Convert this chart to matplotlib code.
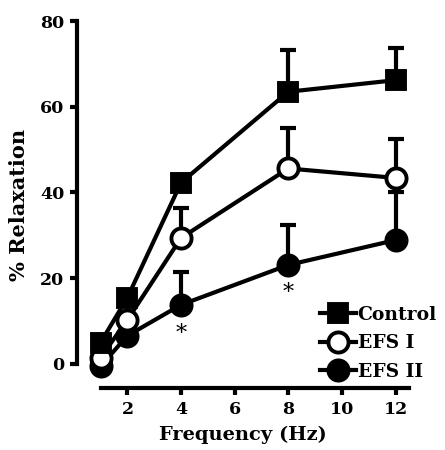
import matplotlib
matplotlib.use("Agg")
import matplotlib.pyplot as plt
from matplotlib.lines import Line2D

freq = [1, 2, 4, 8, 12]

control = [5.0, 15.5, 42.3, 63.5, 66.2]
control_err = [0.5, 1.0, 1.0, 9.7, 7.5]

efs1 = [1.5, 10.3, 29.4, 45.6, 43.4]
efs1_err = [0.5, 1.0, 6.9, 9.5, 9.0]

efs2 = [-0.5, 6.6, 13.8, 23.1, 28.9]
efs2_err = [0.5, 0.5, 7.7, 9.3, 11.1]

star_x = [4, 8]
star_y = [7.0, 16.5]

plt.rcParams['font.family'] = ['DejaVu Serif']
plt.rcParams['font.weight'] = 'bold'

fig = plt.figure(figsize=(4.45, 4.5), dpi=100)
ax = fig.add_axes([77 / 445, 1 - 388 / 450, (409 - 77) / 445, (388 - 21) / 450])

lw = 3.0
series = [
    (efs2, efs2_err, 'o', 'black', 'EFS II'),
    (efs1, efs1_err, 'o', 'white', 'EFS I'),
    (control, control_err, 's', 'black', 'Control'),
]
handles = []
for vals, err, mk, fc, name in series:
    ms = 14.5 if mk == 'o' else 13.5
    ax.errorbar(freq, vals, yerr=[[0] * len(err), err], fmt='none',
                ecolor='black', elinewidth=lw, capsize=6, capthick=lw, zorder=2)
    ax.plot(freq, vals, color='black', lw=lw, marker=mk, markersize=ms,
            markerfacecolor=fc, markeredgecolor='black', markeredgewidth=2.8, zorder=3)
    handles.append(Line2D([], [], color='black', lw=lw, marker=mk, markersize=ms,
                          markerfacecolor=fc, markeredgecolor='black',
                          markeredgewidth=2.8, label=name))

for x, y in zip(star_x, star_y):
    ax.text(x, y, '*', ha='center', va='center', fontsize=16, fontweight='normal')

ax.set_xlim(0.12, 12.5)
ax.set_ylim(-5.6, 80)
ax.set_xticks([2, 4, 6, 8, 10, 12])
ax.set_yticks([0, 20, 40, 60, 80])
ax.spines['top'].set_visible(False)
ax.spines['right'].set_visible(False)
ax.spines['left'].set_bounds(0, 80)
ax.spines['bottom'].set_bounds(1, 12.5)
ax.spines['left'].set_linewidth(3)
ax.spines['bottom'].set_linewidth(3)
ax.tick_params(width=3, length=5, labelsize=12.5, pad=4)
for lab in ax.get_xticklabels() + ax.get_yticklabels():
    lab.set_fontweight('bold')
ax.set_xlabel('Frequency (Hz)', fontsize=14, fontweight='bold', labelpad=6)
ax.set_ylabel('% Relaxation', fontsize=15, fontweight='bold', labelpad=8)

handles = handles[::-1]
leg = fig.legend(handles=handles, loc='upper left', bbox_to_anchor=(320 / 445, 1 - 306 / 450),
                 frameon=False, fontsize=13.5, handlelength=1.9, handletextpad=0.1,
                 labelspacing=0.55, borderpad=0, borderaxespad=0)
for t in leg.get_texts():
    t.set_fontweight('bold')

fig.savefig('out.png', dpi=100)
